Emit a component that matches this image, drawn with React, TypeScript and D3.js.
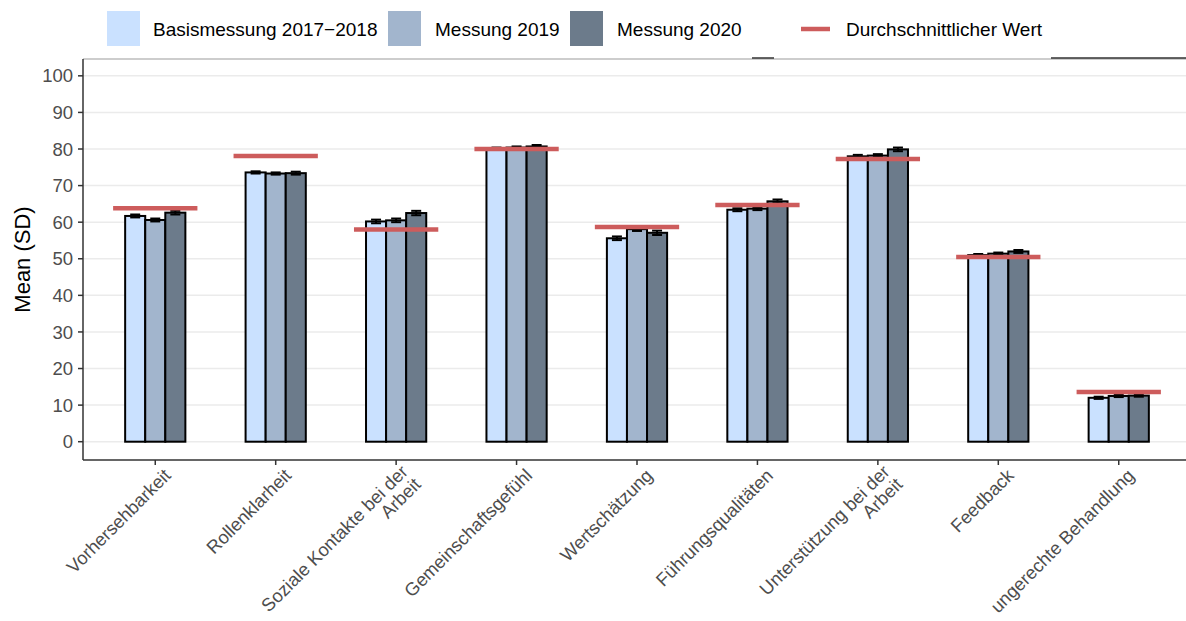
import React from 'react'
import * as d3 from 'd3'

const categories = [
  'Vorhersehbarkeit',
  'Rollenklarheit',
  'Soziale Kontakte bei der\nArbeit',
  'Gemeinschaftsgefühl',
  'Wertschätzung',
  'Führungsqualitäten',
  'Unterstützung bei der\nArbeit',
  'Feedback',
  'ungerechte Behandlung'
]
const seriesNames = ['Basismessung 2017\u22122018', 'Messung 2019', 'Messung 2020']
const basis = [61.7, 73.6, 60.2, 80.1, 55.6, 63.4, 78.0, 51.0, 12.0]
const m2019 = [60.6, 73.3, 60.5, 80.4, 58.1, 63.7, 78.2, 51.4, 12.5]
const m2020 = [62.6, 73.4, 62.5, 80.7, 57.1, 65.7, 79.9, 52.0, 12.6]
const seBasis = [0.4, 0.3, 0.5, 0.3, 0.5, 0.4, 0.4, 0.3, 0.3]
const se2019 = [0.4, 0.3, 0.5, 0.3, 0.5, 0.4, 0.4, 0.3, 0.3]
const se2020 = [0.5, 0.4, 0.6, 0.4, 0.6, 0.5, 0.5, 0.4, 0.3]
const averages = [63.8, 78.1, 58.0, 80.0, 58.7, 64.7, 77.3, 50.5, 13.6]
const yTicks = [0, 10, 20, 30, 40, 50, 60, 70, 80, 90, 100]

const colors = ['#CAE1FF', '#A2B5CD', '#6C7B8B']
const meanColor = '#CD5C5C'
const font = '"Liberation Sans", Arial, sans-serif'

const W = 1186
const H = 621
const left = 83
const top = 59
const bottom = 460

const App: React.FC = () => {
  const values = [basis, m2019, m2020]
  const errors = [seBasis, se2019, se2020]

  const x = d3.scalePoint<string>().domain(categories).range([left, 1191]).padding(0.6)
  const step = x.step()
  const y = d3.scaleLinear().domain([-5, 104.6]).range([bottom, top])
  const barW = (step * 0.5) / 3
  const capHalf = 5

  // legend entries: key x, text x
  const legendKeys = [
    { kx: 107, tx: 153 },
    { kx: 388, tx: 435 },
    { kx: 570, tx: 617 }
  ]

  return (
    <svg width={W} height={H} style={{ position: 'absolute', left: 0, top: 0 }} fontFamily={font}>
      <rect width={W} height={H} fill="#fff" />

      {/* grid */}
      {yTicks.map(t => (
        <line key={t} x1={left} x2={W} y1={y(t)} y2={y(t)} stroke="#ebebeb" strokeWidth={1.5} />
      ))}
      <line x1={left} x2={W} y1={top} y2={top} stroke="#bdbdbd" strokeWidth={1.5} />
      <line x1={752} x2={774} y1={58} y2={58} stroke="#333" strokeWidth={1.5} />
      <line x1={1051} x2={W} y1={58} y2={58} stroke="#333" strokeWidth={1.5} />

      {/* bars */}
      {categories.map((c, i) => {
        const cx = x(c) as number
        return (
          <g key={c}>
            {values.map((vals, s) => {
              const bx = cx - 1.5 * barW + s * barW
              return (
                <rect key={s} x={bx} y={y(vals[i])} width={barW} height={y(0) - y(vals[i])}
                  fill={colors[s]} stroke="#000" strokeWidth={2} />
              )
            })}
            {values.map((vals, s) => {
              const mx = cx - barW + s * barW
              const hi = y(vals[i] + errors[s][i])
              const lo = y(vals[i] - errors[s][i])
              return (
                <g key={'e' + s} stroke="#000" strokeWidth={2}>
                  <line x1={mx} x2={mx} y1={hi} y2={lo} />
                  <line x1={mx - capHalf} x2={mx + capHalf} y1={hi} y2={hi} />
                  <line x1={mx - capHalf} x2={mx + capHalf} y1={lo} y2={lo} />
                </g>
              )
            })}
            <line x1={cx - step * 0.35} x2={cx + step * 0.35} y1={y(averages[i])} y2={y(averages[i])}
              stroke={meanColor} strokeWidth={4.5} />
          </g>
        )
      })}

      {/* y axis */}
      <line x1={left} x2={left} y1={top} y2={bottom} stroke="#333" strokeWidth={1.5} />
      {yTicks.map(t => (
        <g key={t}>
          <line x1={left - 5} x2={left} y1={y(t)} y2={y(t)} stroke="#333" strokeWidth={1.5} />
          <text x={left - 10} y={y(t)} dy="0.36em" textAnchor="end" fontSize={18.5} fill="#4d4d4d">{t}</text>
        </g>
      ))}
      <text transform={`translate(30,${(top + bottom) / 2}) rotate(-90)`} textAnchor="middle" fontSize={22} fill="#000">Mean (SD)</text>

      {/* x axis */}
      <line x1={left} x2={W} y1={bottom} y2={bottom} stroke="#333" strokeWidth={1.5} />
      {categories.map(c => {
        const cx = x(c) as number
        const lines = c.split('\n')
        const shift = lines.length > 1 ? -0.3 : 0
        return (
          <g key={c}>
            <line x1={cx} x2={cx} y1={bottom} y2={bottom + 5} stroke="#333" strokeWidth={1.5} />
            <text transform={`translate(${cx + 7},467) rotate(-45)`} textAnchor="end" fontSize={18.3} fill="#4d4d4d">
              {lines.map((l, k) => (
                <tspan key={k} x={0} dy={k === 0 ? `${0.75 + shift}em` : '1.0em'}>{l}</tspan>
              ))}
            </text>
          </g>
        )
      })}

      {/* legend */}
      {legendKeys.map((k, s) => (
        <g key={s}>
          <rect x={k.kx} y={11} width={33} height={35} fill={colors[s]} />
          <text x={k.tx} y={29} dy="0.36em" fontSize={19} fill="#000">{seriesNames[s]}</text>
        </g>
      ))}
      <line x1={801} x2={830} y1={29} y2={29} stroke={meanColor} strokeWidth={4.5} />
      <text x={846} y={29} dy="0.36em" fontSize={19} fill="#000">Durchschnittlicher Wert</text>
    </svg>
  )
}

export default App
